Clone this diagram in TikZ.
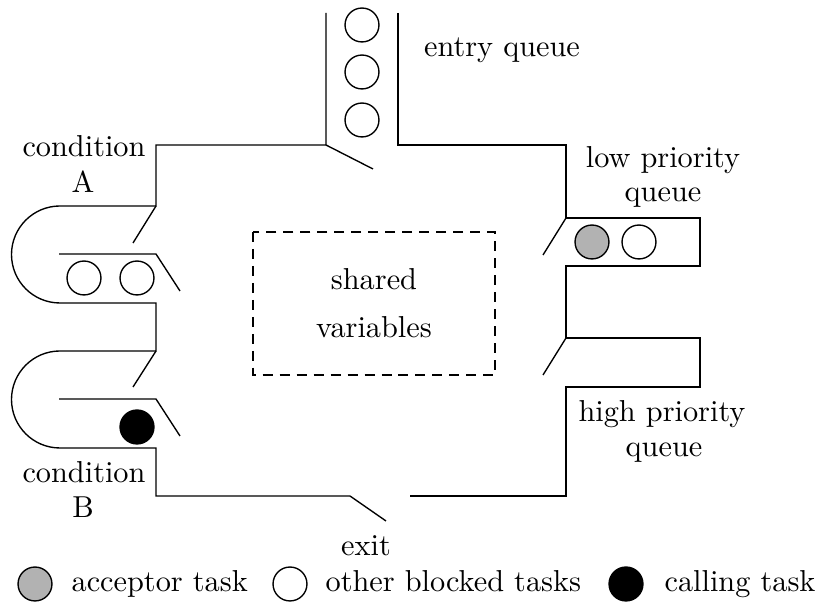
\documentclass[tikz,border=0pt]{standalone}
\begin{document}
\begin{tikzpicture}[x=0.33pt,y=-0.33pt,
    wall/.style={line width=0.45pt},
    token/.style={circle,draw,line width=0.45pt,minimum size=11.2pt,inner sep=0pt},
    acceptor/.style={token,fill=black!30},
    blocked/.style={token,fill=white},
    calling/.style={token,fill=black},
    lbl/.style={anchor=base,inner sep=0pt},
    legendtext/.style={anchor=base west,inner sep=0pt}]
\useasboundingbox (0,0) rectangle (822,614);

% monitor walls: left side with the two condition queues
\draw[wall] (326,13) -- (326,145) -- (156,145) -- (156,206) -- (60,206)
   .. controls (33.2,206) and (11.5,227.7) .. (11.5,254.5)
   .. controls (11.5,281.3) and (33.2,303) .. (60,303)
   -- (156,303) -- (156,351) -- (60,351)
   .. controls (33.2,351) and (11.5,372.7) .. (11.5,399.5)
   .. controls (11.5,426.3) and (33.2,448) .. (60,448)
   -- (156,448) -- (156,496) -- (350,496);
% right side with the priority queues
\draw[wall] (398,13) -- (398,145) -- (566,145) -- (566,218) -- (700,218)
   -- (700,266) -- (566,266) -- (566,338) -- (700,338) -- (700,387)
   -- (566,387) -- (566,496) -- (410,496);

% inner walls of the condition queues
\draw[wall] (59,254) -- (156,254) -- (180,291);
\draw[wall] (59,399) -- (156,399) -- (180,436);

% doors
\draw[wall] (326,145) -- (373,169);
\draw[wall] (156,206) -- (133,243);
\draw[wall] (156,351) -- (133,387);
\draw[wall] (566,218) -- (543,255);
\draw[wall] (566,338) -- (543,375);
\draw[wall] (350,496) -- (386,521);

% shared data
\draw[wall,dash pattern=on 3.3pt off 2.3pt] (253,232) rectangle (495,375);
\node[lbl] (shared) at (374,290) {shared};
\node[lbl] (vars) at (374,338) {variables};

% tasks
\node[blocked] (e1) at (362,25) {};
\node[blocked] (e2) at (362,72) {};
\node[blocked] (e3) at (362,120) {};
\node[blocked] (a1) at (84,278) {};
\node[blocked] (a2) at (137,278) {};
\node[calling] (b1) at (137,427) {};
\node[acceptor] (l1) at (592,242) {};
\node[blocked] (l2) at (639,242) {};

% labels
\node[lbl] (entry) at (502,57) {entry queue};
\node[lbl] (condA) at (84,157) {condition};
\node[lbl] (nameA) at (83,193) {A};
\node[lbl] (condB) at (84,483) {condition};
\node[lbl] (nameB) at (83,518) {B};
\node[lbl] (low) at (663,168) {low priority};
\node[lbl] (lowq) at (663,202) {queue};
\node[lbl] (high) at (662,422) {high priority};
\node[lbl] (highq) at (664,457) {queue};
\node[lbl] (exit) at (366,556) {exit};

% legend
\node[acceptor] (ka) at (35,584) {};
\node[legendtext] (ta) at (71,592) {acceptor task};
\node[blocked] (kb) at (290,584) {};
\node[legendtext] (tb) at (325,592) {other blocked tasks};
\node[calling] (kc) at (626,584) {};
\node[legendtext] (tc) at (664,592) {calling task};
\end{tikzpicture}
\end{document}
